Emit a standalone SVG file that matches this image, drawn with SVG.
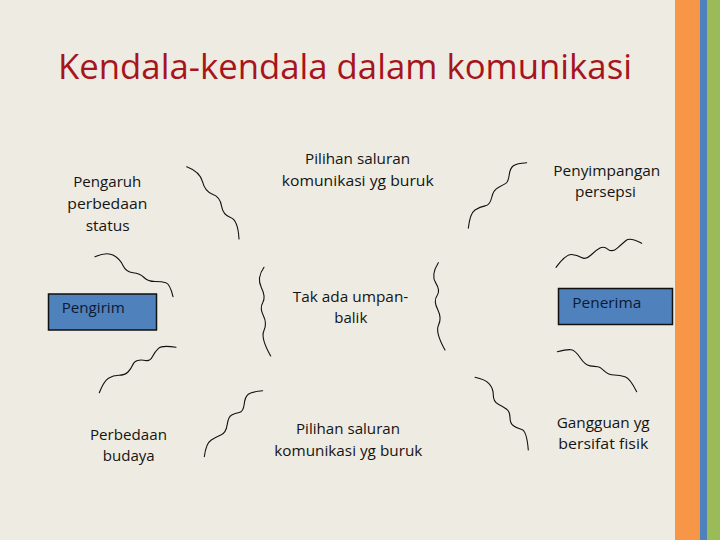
<svg xmlns="http://www.w3.org/2000/svg" width="720" height="540" viewBox="0 0 720 540">
<style>
.t{font-family:"Open Sans","Liberation Sans",sans-serif;font-size:14.5px;fill:#141414;text-anchor:start}
.bx{fill:#4f81bd;stroke:#111;stroke-width:1.5}
.bt{font-family:"Open Sans","Liberation Sans",sans-serif;font-size:14.5px;fill:#0b1a33}
.sq{fill:none;stroke:#111;stroke-width:1.1;stroke-linecap:round;stroke-linejoin:round}
</style>
<rect width="720" height="540" fill="#eeebe2"/>
<rect x="675" y="0" width="25" height="540" fill="#f79646"/>
<rect x="700" y="0" width="7" height="540" fill="#4f81bd"/>
<rect x="707" y="0" width="13" height="540" fill="#9bbb59"/>
<text x="58" y="79" font-family="'Open Sans','Liberation Sans',sans-serif" font-size="34" fill="#a8141b" textLength="574" lengthAdjust="spacingAndGlyphs">Kendala-kendala dalam komunikasi</text>
<g id="connectors">
<path class="sq" d="M186.7,166.7 Q200,171.7 202.5,181.7 Q205,191.7 212.5,194.2 Q220,196.7 221.5,205.9 Q223,215 230.5,217.5 Q238,220 239,239"/>
<path class="sq" d="M95,256.7 Q107,251.5 113.5,255.3 Q120,259 123,265.5 Q126,272 133,272.8 Q140,273.5 144,277.5 Q148,281.5 155,281.5 Q162,281.5 166,282.8 Q170,284 173,296.7"/>
<path class="sq" d="M99.3,392.7 Q104,381 108.5,378.3 Q113,375.5 119,375.3 Q125,375 128,372 Q131,369 132.5,365.3 Q134,361.5 137.5,360.5 Q141,359.5 145.5,360.5 Q150,361.5 152.5,356.5 Q155,351.5 158.5,348.3 Q162,345 176,347.3"/>
<path class="sq" d="M204.3,456.7 Q206,443.3 211.3,440 Q216.7,436.7 221.3,434.7 Q226,432.7 227.2,424.7 Q228.3,416.7 231.7,415 Q235,413.3 239.2,412.5 Q243.3,411.7 244.2,404.2 Q245,396.7 248.3,394.2 Q251.7,391.7 262.7,390.7"/>
<path class="sq" d="M264,267.3 Q256.5,278 261.3,287.4 Q266,296.7 262.8,302.4 Q259.5,308 263.4,315.7 Q267.3,323.3 263.9,330.7 Q260.5,338 270.7,356"/>
<path class="sq" d="M438.3,262.7 Q430.7,275 435.7,282.9 Q440.7,290.7 437,295.8 Q433.3,300.8 437.7,309.6 Q442,318.3 438.5,325.2 Q435,332 445,350"/>
<path class="sq" d="M468.3,228.3 Q470,213.3 475,210 Q480,206.7 485,205.9 Q490,205 491.7,197.5 Q493.3,190 498.3,187.5 Q503.3,185 505.8,183.4 Q508.3,181.7 509.2,175 Q510,168.3 513.4,165.8 Q516.7,163.3 526.7,162.7"/>
<path class="sq" d="M556,267.3 Q566,254 571.5,254.5 Q577,255 581.5,257.5 Q586,260 591,255 Q596,250 600,248 Q604,246 608,249.3 Q612,252.5 617,248.3 Q622,244 626,240.5 Q630,237 641.7,243.3"/>
<path class="sq" d="M557.3,351.7 Q566.7,349.3 570.9,349.7 Q575,350 580,357.5 Q585,365 590,365.9 Q595,366.7 597.5,366.7 Q600,366.7 604.2,370.9 Q608.3,375 614.2,375 Q620,375 625,376.7 Q630,378.3 636.7,391.7"/>
<path class="sq" d="M475,377.3 Q485,379.3 489.2,383.8 Q493.3,388.3 493.3,395 Q493.3,401.7 498.3,404.2 Q503.3,406.7 506.7,409.2 Q510,411.7 510,417.5 Q510,423.3 513.4,425.8 Q516.7,428.3 521.7,429.5 Q526.7,430.7 528.3,450"/>
</g>
<g id="pengaruh">
<text class="t" x="73.3" y="187" textLength="68" lengthAdjust="spacingAndGlyphs">Pengaruh</text>
<text class="t" x="67.3" y="208.5" textLength="80" lengthAdjust="spacingAndGlyphs">perbedaan</text>
<text class="t" x="85.7" y="231" textLength="44" lengthAdjust="spacingAndGlyphs">status</text>
</g>
<g id="pengirim">
<rect class="bx" x="48.5" y="294" width="108" height="36"/>
<text class="bt" x="61.7" y="313.3" textLength="63" lengthAdjust="spacingAndGlyphs">Pengirim</text>
</g>
<g id="perbedaan-budaya">
<text class="t" x="90" y="439.5" textLength="77" lengthAdjust="spacingAndGlyphs">Perbedaan</text>
<text class="t" x="102.7" y="461" textLength="52" lengthAdjust="spacingAndGlyphs">budaya</text>
</g>
<g id="pilihan-atas">
<text class="t" x="305" y="163.5" textLength="105" lengthAdjust="spacingAndGlyphs">Pilihan saluran</text>
<text class="t" x="281.7" y="185.5" textLength="152" lengthAdjust="spacingAndGlyphs">komunikasi yg buruk</text>
</g>
<g id="tak-ada">
<text class="t" x="292.7" y="301.5" textLength="115.6" lengthAdjust="spacingAndGlyphs">Tak ada umpan-</text>
<text class="t" x="334.3" y="323" textLength="33" lengthAdjust="spacingAndGlyphs">balik</text>
</g>
<g id="pilihan-bawah">
<text class="t" x="296" y="433.5" textLength="104" lengthAdjust="spacingAndGlyphs">Pilihan saluran</text>
<text class="t" x="274.3" y="455.5" textLength="148" lengthAdjust="spacingAndGlyphs">komunikasi yg buruk</text>
</g>
<g id="penyimpangan">
<text class="t" x="553.3" y="175.5" textLength="107" lengthAdjust="spacingAndGlyphs">Penyimpangan</text>
<text class="t" x="575" y="197" textLength="61" lengthAdjust="spacingAndGlyphs">persepsi</text>
</g>
<g id="penerima">
<rect class="bx" x="558.5" y="288.5" width="114" height="36"/>
<text class="bt" x="572.3" y="307.5" textLength="69" lengthAdjust="spacingAndGlyphs">Penerima</text>
</g>
<g id="gangguan">
<text class="t" x="556.7" y="427.5" textLength="93" lengthAdjust="spacingAndGlyphs">Gangguan yg</text>
<text class="t" x="558.3" y="449" textLength="90" lengthAdjust="spacingAndGlyphs">bersifat fisik</text>
</g>
</svg>
